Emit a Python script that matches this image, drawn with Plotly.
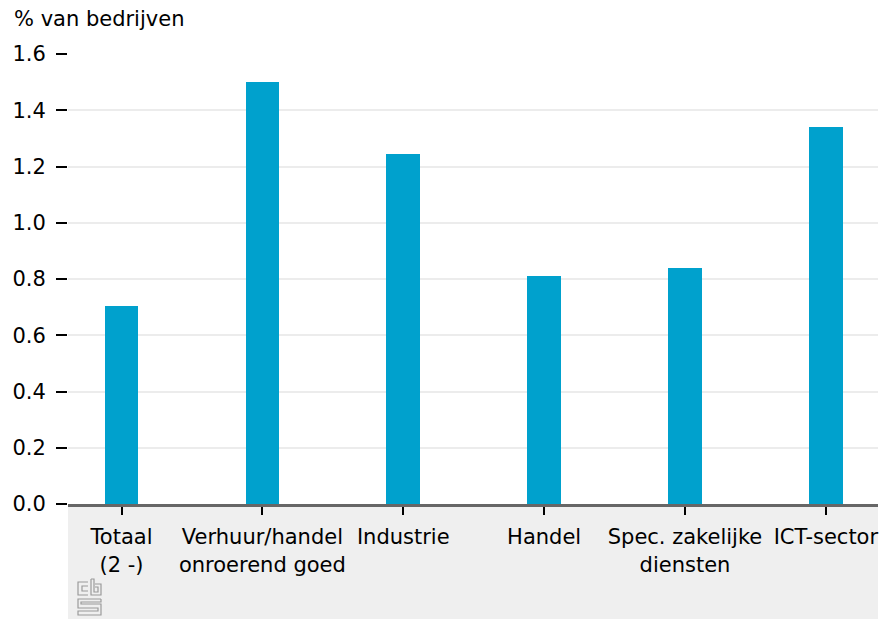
import plotly.graph_objects as go

# ── Data ─────────────────────────────────────────────────────────────────────
CATEGORIES = ["Totaal<br>(2 -)", "Verhuur/handel<br>onroerend goed", "Industrie",
              "Handel", "Spec. zakelijke<br>diensten", "ICT-sector"]
VALUES = [0.705, 1.50, 1.245, 0.81, 0.84, 1.34]
Y_TICKS = [0.0, 0.2, 0.4, 0.6, 0.8, 1.0, 1.2, 1.4, 1.6]

# ── Style ────────────────────────────────────────────────────────────────────
BLUE = "#00a1cd"
GRID = "#ececec"
BAND = "#efefef"
FONT = dict(family="DejaVu Sans, sans-serif", color="#000000", size=21)

W, H = 885, 619
L, R, T, B = 68, 7, 54, 115
PW, PH = W - L - R, H - T - B


def px(x, y):
    """pixel -> paper coords"""
    return (x - L) / PW, (H - B - y) / PH


def path(points):
    s = ""
    for i, (x, y) in enumerate(points):
        a, b = px(x, y)
        s += ("M" if i == 0 else "L") + f"{a:.5f},{b:.5f} "
    return s


fig = go.Figure()
fig.add_trace(go.Bar(
    x=CATEGORIES, y=VALUES,
    marker=dict(color=BLUE, line=dict(width=0)),
    width=0.24,
))

shapes = [
    # grey band under the axis
    dict(type="rect", xref="paper", yref="paper", x0=0, x1=1,
         y0=-B / PH, y1=0, fillcolor=BAND, line=dict(width=0), layer="below"),
]
# small cbs logo
logo = [
    [(88, 582), (78, 582), (78, 595), (88, 595)],
    [(88, 586), (82, 586), (82, 591), (88, 591)],
    [(91, 579), (91, 595), (101, 595), (101, 584), (95, 584)],
    [(95, 587), (98, 587), (98, 592), (94, 592), (94, 579), (91, 579)],
    [(101, 599), (78, 599), (78, 608), (98, 608), (98, 611), (78, 611), (78, 615), (101, 615),
     (101, 604), (81, 604), (81, 602), (101, 602), (101, 599)],
]
for pts in logo:
    shapes.append(dict(type="path", xref="paper", yref="paper", path=path(pts),
                       line=dict(color="#9a9a9a", width=1.2)))

fig.update_layout(
    width=W, height=H,
    paper_bgcolor="white",
    plot_bgcolor="white",
    font=FONT,
    margin=dict(l=L, r=R, t=T, b=B, pad=0, autoexpand=False),
    showlegend=False,
    bargap=0,
    shapes=shapes,
    annotations=[dict(text="% van bedrijven", xref="paper", yref="paper",
                      x=-(L - 12) / PW, y=1 + 35 / PH, xanchor="left", yanchor="middle",
                      showarrow=False, font=FONT)],
    xaxis=dict(
        range=[-0.38, 5.37],
        showgrid=False,
        showline=True, linecolor="#666666", linewidth=3,
        ticks="outside", ticklen=8, tickwidth=2, tickcolor="#000000",
        ticklabelstandoff=4,
        tickfont=FONT,
    ),
    yaxis=dict(
        range=[0, 1.6],
        tickvals=Y_TICKS,
        ticktext=[f"{v:.1f}" for v in Y_TICKS],
        showgrid=True, gridcolor=GRID, gridwidth=2,
        zeroline=False, showline=False,
        ticks="outside", ticklen=11, tickwidth=2, tickcolor="#000000",
        ticklabelstandoff=6,
        tickfont=FONT,
    ),
)

fig.write_html("out.html", config={"displayModeBar": False},
               post_script="document.body.style.margin='0';")
